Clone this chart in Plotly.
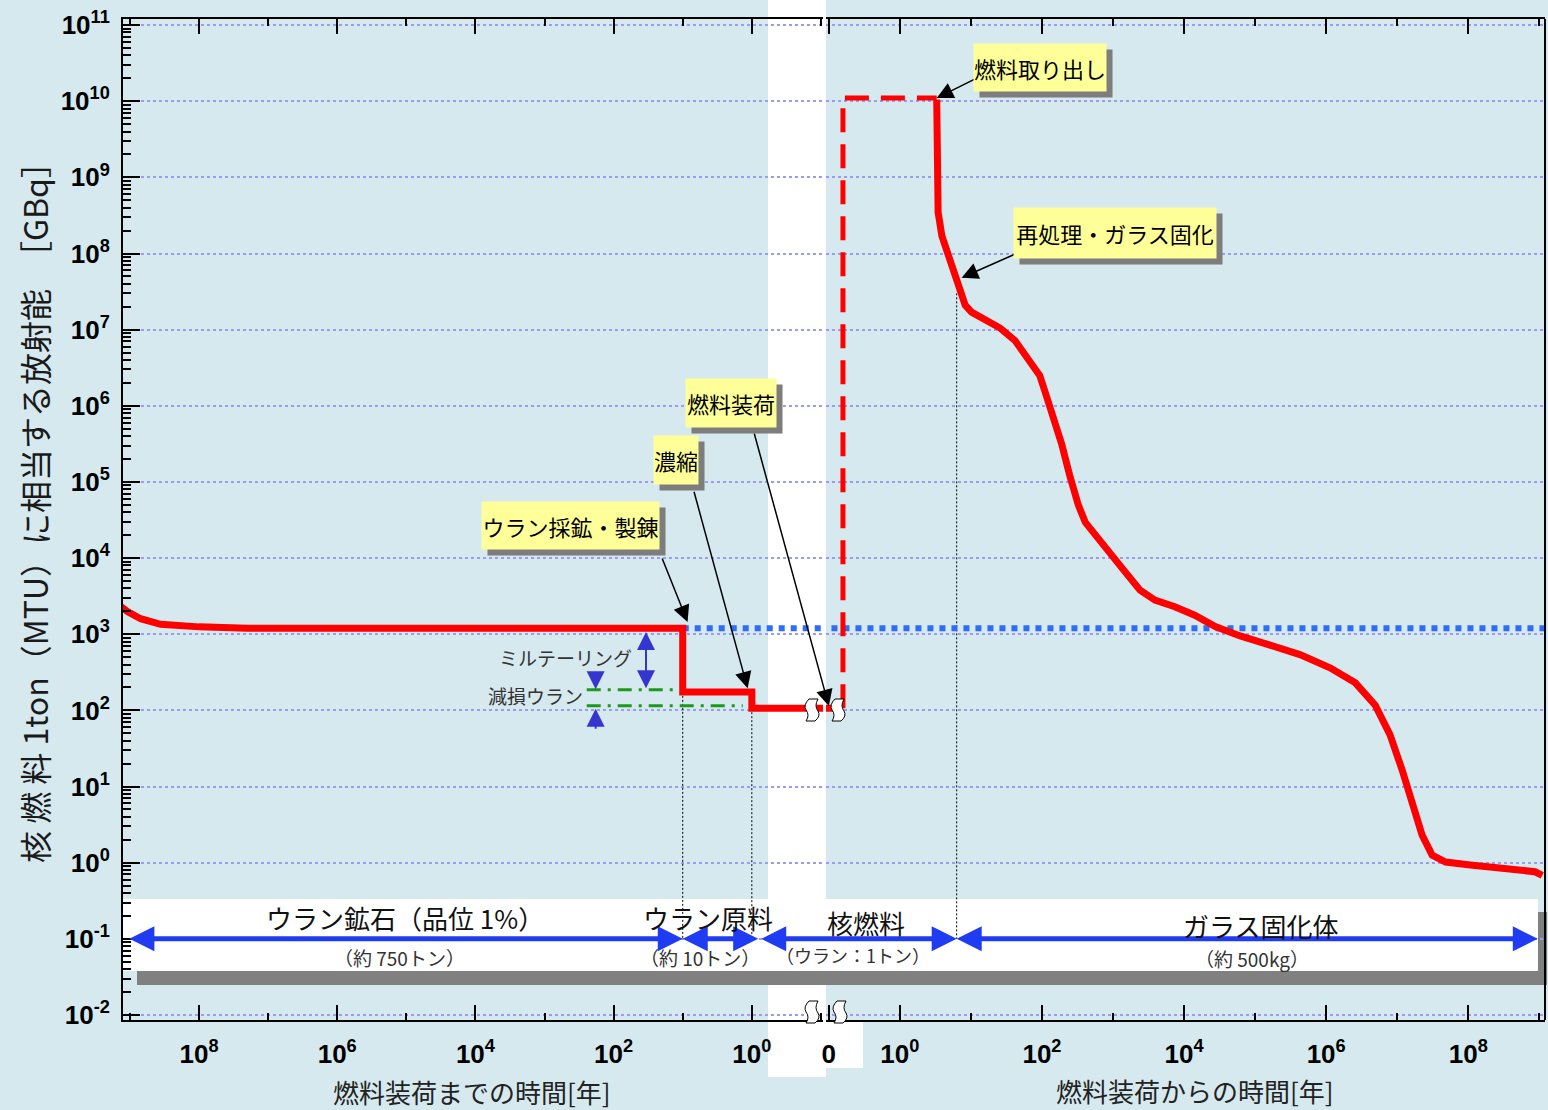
import numpy as np
import plotly.graph_objects as go

# ---------------- data ----------------
# time before fuel loading [years] and activity [GBq per tU of fuel]
pre_years = [1.5e9, 1.1e9, 7.0e8, 3.6e8, 1.0e8, 2.0e7, 10, 10, 1, 1, 0.05]
pre_gbq = [2.5e3, 2.0e3, 1.6e3, 1.35e3, 1.25e3, 1.2e3, 1.2e3, 175, 175, 107, 107]

# time after fuel loading [years]
reactor_years = [0.05, 0.158]
reactor_gbq = [107, 107]
burn_years = [0.158, 0.158, 3.3]
burn_gbq = [107, 1.1e10, 1.1e10]

post_years = [3.3, 3.3, 3.35, 3.45, 3.9, 4.8, 5.9, 7.1, 8.3, 10.2, 15.8, 25.7, 41.7, 67.6, 93,
              120, 151, 190, 245, 324, 407, 562, 912, 1480, 2400, 3890, 7400, 14100,
              27500, 61700, 1.62e5, 4.27e5, 1.15e6, 2.57e6, 4.9e6, 7.9e6, 1.17e7,
              1.62e7, 2.24e7, 3.1e7, 4.8e7, 1.07e8, 2.8e8, 6.3e8, 8.7e8, 1.1e9]
post_gbq = [1.05e10, 1.5e9, 6.0e8, 3.5e8, 1.7e8, 9.5e7, 5.2e7, 3.0e7, 2.1e7, 1.7e7, 1.35e7,
            1.05e7, 7.2e6, 4.0e6, 2.5e6, 1.2e6, 6.5e5, 3.1e5, 1.23e5, 5.0e4, 2.95e4,
            2.0e4, 1.17e4, 6.6e3, 3.8e3, 2.8e3, 2.3e3, 1.78e3, 1.26e3, 950, 720, 540,
            360, 230, 117, 48, 16.6, 5.8, 2.3, 1.26, 1.02, 0.93, 0.85, 0.79, 0.76, 0.68]

ore_level_gbq = 1.2e3                 # natural uranium ore level (blue dotted)
depleted_upper = ([245, 13.8], [186, 186])
depleted_lower = ([245, 1.35], [115, 115])

mining_year = 10          # ore -> raw material
enrich_year = 1           # raw -> fuel
reprocess_year = 6.3      # spent fuel -> glass
ore_start_year = 1.07e9
glass_end_year = 1.0e9
raw_end_year = 0.77
axis_floor = 0.1

y_tick_exp = list(range(-2, 12))
x_major_left = [1e8, 1e6, 1e4, 1e2, 1]
x_minor_left = [1e9, 1e7, 1e5, 1e3, 10, 0.1]
x_major_right = [0.1, 1, 1e2, 1e4, 1e6, 1e8]
x_minor_right = [10, 1e3, 1e5, 1e7, 1e9]

# ---------------- helpers ----------------
W, H = 1548, 1110
def px(x):
    return x / W
def py(y):
    return 1 - y / H
def sup(v):
    return "10<sup>%d</sup>" % round(np.log10(v))
L = np.log10

JP = "Noto Sans CJK JP"
NUM = "Liberation Sans"
BG = "#d5e9ee"
RED = "#ff0000"
BLUE = "#1f3cf2"
GRID = "#9b9bf2"

fig = go.Figure()

def line(x, y, axis, color, width, dash="solid"):
    fig.add_trace(go.Scatter(x=x, y=y, xaxis=axis, yaxis="y", mode="lines",
                             line=dict(color=color, width=width, dash=dash),
                             hoverinfo="skip", showlegend=False))

# thin dotted guides
line([mining_year, mining_year], [175, axis_floor], "x", "black", 1, "2px,2px")
line([enrich_year, enrich_year], [107, axis_floor], "x", "black", 1, "2px,2px")
line([reprocess_year, reprocess_year], [3.0e7, axis_floor], "x2", "black", 1, "2px,2px")

# depleted uranium (green dash-dot)
line(depleted_upper[0], depleted_upper[1], "x", "#1c9a1c", 3, "14px,7px,3px,7px")
line(depleted_lower[0], depleted_lower[1], "x", "#1c9a1c", 3, "14px,7px,3px,7px")

# ore level (blue dotted)
line([mining_year, 0.05], [ore_level_gbq] * 2, "x", "#2f6df6", 6, "dot")
line([0.05, 2e9], [ore_level_gbq] * 2, "x2", "#2f6df6", 6, "dot")

# red activity curve
line(pre_years, pre_gbq, "x", RED, 7)
line(reactor_years, reactor_gbq, "x2", RED, 7)
line(burn_years, burn_gbq, "x2", RED, 5, "24px,12px")
line(post_years, post_gbq, "x2", RED, 7)

# ---------------- axes ----------------
tickfont = dict(family=NUM, size=26, color="black", weight="bold")
common_x = dict(type="log", showgrid=False, zeroline=False, showline=True,
                linecolor="black", linewidth=2, mirror="ticks", ticks="inside",
                ticklen=15, tickwidth=2, tickcolor="black", tickfont=tickfont,
                tickmode="array", anchor="y", automargin=False,
                ticklabelstandoff=10)
fig.update_layout(
    xaxis=dict(common_x, domain=[px(123), px(823)], range=[9.10, -1.03],
               tickvals=x_major_left, ticktext=[sup(v) for v in x_major_left],
               minor=dict(tickmode="array", tickvals=x_minor_left, ticks="inside",
                          ticklen=7, tickwidth=2, tickcolor="black")),
    xaxis2=dict(common_x, domain=[px(826), px(1545)], range=[-1.04, 9.08],
                tickvals=x_major_right,
                ticktext=["0"] + [sup(v) for v in x_major_right[1:]],
                minor=dict(tickmode="array", tickvals=x_minor_right, ticks="inside",
                           ticklen=7, tickwidth=2, tickcolor="black")),
    yaxis=dict(type="log", domain=[py(1020), py(19)], range=[-2.066, 11.08],
               anchor="x", showline=True, linecolor="black", linewidth=2,
               ticks="inside", ticklen=17, tickwidth=2, tickcolor="black",
               tickmode="array", tickvals=[10.0 ** e for e in y_tick_exp],
               ticktext=["10<sup>%d</sup>" % e for e in y_tick_exp],
               tickfont=tickfont, showgrid=True, gridcolor=GRID, gridwidth=2,
               griddash="dot", zeroline=False, automargin=False,
               ticklabelstandoff=6,
               minor=dict(tickmode="array",
                          tickvals=[k * 10.0 ** e for e in y_tick_exp[:-1] for k in range(2, 10)],
                          ticks="inside", ticklen=8, tickwidth=1.5, tickcolor="black",
                          showgrid=False)),
    width=W, height=H, margin=dict(l=0, r=0, t=0, b=0),
    paper_bgcolor=BG, plot_bgcolor="rgba(0,0,0,0)", showlegend=False,
)

# ---------------- decorative shapes ----------------
def rect(x0, y0, x1, y1, color, layer="below"):
    return dict(type="rect", xref="paper", yref="paper", x0=px(x0), x1=px(x1),
                y0=py(y1), y1=py(y0), fillcolor=color, line=dict(width=0), layer=layer)

def squiggle(cx, cy):
    pts = [(cx - 3, cy - 11), (cx + 6, cy - 11), (cx + 2, cy - 4), (cx + 6, cy + 1),
           (cx + 9, cy + 6), (cx + 3, cy + 11), (cx - 6, cy + 11), (cx - 2, cy + 5),
           (cx - 6, cy), (cx - 9, cy - 5), (cx - 3, cy - 11)]
    p = "M %f,%f " % (px(pts[0][0]), py(pts[0][1]))
    p += "L %f,%f " % (px(pts[1][0]), py(pts[1][1]))
    p += "Q %f,%f %f,%f " % (px(pts[2][0]), py(pts[2][1]), px(pts[3][0]), py(pts[3][1]))
    p += "Q %f,%f %f,%f " % (px(pts[4][0]), py(pts[4][1]), px(pts[5][0]), py(pts[5][1]))
    p += "L %f,%f " % (px(pts[6][0]), py(pts[6][1]))
    p += "Q %f,%f %f,%f " % (px(pts[7][0]), py(pts[7][1]), px(pts[8][0]), py(pts[8][1]))
    p += "Q %f,%f %f,%f Z" % (px(pts[9][0]), py(pts[9][1]), px(pts[10][0]), py(pts[10][1]))
    return dict(type="path", xref="paper", yref="paper", path=p, fillcolor="white",
                line=dict(color="black", width=1), layer="above")

shapes = [
    rect(768, 0, 826, 1077, "white"),
    rect(807, 1022, 863, 1068, "white"),
    rect(137, 912, 1547, 985, "#808080"),
    rect(122, 899, 1538, 971, "white"),
    dict(type="line", xref="paper", yref="paper", x0=px(1545), x1=px(1545),
         y0=py(1020), y1=py(19), line=dict(color="black", width=2)),
    squiggle(812, 710), squiggle(838, 710), squiggle(812, 1012), squiggle(840, 1012),
]
fig.update_layout(shapes=shapes)

# ---------------- annotations ----------------
ann = []

def callout(text, cx, cy, w, h):
    base = dict(text=text, xref="paper", yref="paper", x=px(cx), y=py(cy),
                xanchor="center", yanchor="middle",
                showarrow=False, width=w, height=h, align="center", valign="middle",
                font=dict(family=JP, size=22, color="black"))
    shadow = dict(base, text="", xshift=6, yshift=-6, bgcolor="#7d7d7d")
    ann.append(shadow)
    ann.append(dict(base, bgcolor="#ffff99"))

def pointer(xa, xv, yv, dx, dy):
    ann.append(dict(text="", xref=xa, yref="y", x=L(xv), y=L(yv), ax=dx, ay=dy,
                    axref="pixel", ayref="pixel", showarrow=True, arrowhead=2,
                    arrowsize=2.2, arrowwidth=1.5, arrowcolor="black"))

pointer("x2", burn_years[-1], burn_gbq[-1], 40, -20)
pointer("x2", 7.4, 4.8e7, 54, -24)
pointer("x2", axis_floor, 114, -75, -274)
pointer("x", 1.15, 195, -54, -198)
pointer("x", 8.5, 1.45e3, -26, -65)

callout("燃料取り出し", 1040, 67, 130, 45)
callout("再処理・ガラス固化", 1115, 233, 200, 48)
callout("燃料装荷", 731, 403, 88, 46)
callout("濃縮", 676, 460, 42, 46)
callout("ウラン採鉱・製錬", 570, 525, 175, 45)

# stage double arrows at the bottom band
ARW = dict(showarrow=True, arrowside="end+start", arrowhead=2, arrowsize=1.0,
           arrowwidth=5, arrowcolor=BLUE, text="")

def span(xa, x_head, x_tail, y=0.1):
    ann.append(dict(ARW, xref=xa, yref="y", x=L(x_head), y=L(y),
                    axref=xa, ayref="y", ax=L(x_tail), ay=L(y)))

span("x", mining_year, ore_start_year)
span("x", mining_year, raw_end_year)
ann.append(dict(ARW, xref="x2", yref="y", x=L(reprocess_year), y=L(0.1),
                axref="pixel", ayref="pixel", ax=-197, ay=0))
span("x2", reprocess_year, glass_end_year)

# mill tailing / depleted uranium arrows
def small_arrow(x_year, y_head, y_tail, both=False):
    ann.append(dict(text="", xref="x", yref="y", x=L(x_year), y=L(y_head),
                    axref="x", ayref="y", ax=L(x_year), ay=L(y_tail), showarrow=True,
                    arrowside="end+start" if both else "end", arrowhead=2,
                    arrowsize=1.8, arrowwidth=2, arrowcolor="#3535d0"))

small_arrow(34, 1.07e3, 186, both=True)
small_arrow(182, 190, 330)
small_arrow(182, 105, 55)

def label(text, cx, cy, size, color="#111111", family=JP, angle=0):
    ann.append(dict(text=text, xref="paper", yref="paper", x=px(cx), y=py(cy),
                    xanchor="center", yanchor="middle",
                    showarrow=False, textangle=angle,
                    font=dict(family=family, size=size, color=color)))

label("ミルテーリング", 565, 657, 19, "#333333")
label("減損ウラン", 535, 695, 19, "#333333")

label("ウラン鉱石（品位 1%）", 405, 917, 26)
label("（約 750トン）", 400, 957, 19, "#333333")
label("ウラン原料", 708, 917, 26)
label("（約 10トン）", 700, 957, 19, "#333333")
label("核燃料", 866, 922, 26)
label("（ウラン：1トン）", 853, 955, 18, "#333333")
label("ガラス固化体", 1260, 925, 26)
label("（約 500kg）", 1252, 958, 19, "#333333")

label("燃料装荷までの時間[年]", 472, 1091, 26, "#222222")
label("燃料装荷からの時間[年]", 1195, 1090, 26, "#222222")
label("核 燃 料 1ton（MTU）に相当する放射能　［GBq］", 34, 505, 32, "#1a1a1a", angle=-90)

fig.update_layout(annotations=ann)
fig.write_html("out.html")
